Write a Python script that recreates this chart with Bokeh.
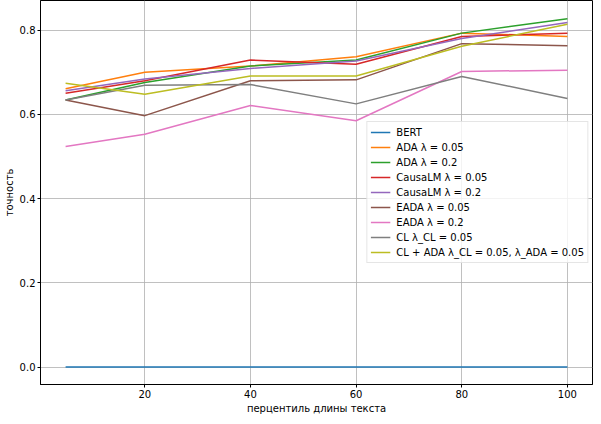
from bokeh.plotting import figure
from bokeh.models import Range1d, FixedTicker, Legend, LegendItem, PrintfTickFormatter
from bokeh.embed import file_html
from bokeh.resources import INLINE

x = [5, 20, 40, 60, 80, 100]
bert = [0.0, 0.0, 0.0, 0.0, 0.0, 0.0]
ada_005 = [0.661, 0.700, 0.715, 0.737, 0.793, 0.785]
ada_02 = [0.634, 0.676, 0.715, 0.729, 0.793, 0.827]
causalm_005 = [0.650, 0.680, 0.729, 0.719, 0.785, 0.793]
causalm_02 = [0.656, 0.684, 0.709, 0.727, 0.780, 0.818]
eada_005 = [0.634, 0.597, 0.680, 0.682, 0.768, 0.763]
eada_02 = [0.524, 0.553, 0.621, 0.585, 0.702, 0.705]
cl = [0.634, 0.669, 0.671, 0.625, 0.690, 0.638]
cl_ada = [0.674, 0.648, 0.691, 0.691, 0.762, 0.814]

labels = [
    "BERT",
    "ADA λ = 0.05",
    "ADA λ = 0.2",
    "CausaLM λ = 0.05",
    "CausaLM λ = 0.2",
    "EADA λ = 0.05",
    "EADA λ = 0.2",
    "CL λ_CL = 0.05",
    "CL + ADA λ_CL = 0.05, λ_ADA = 0.05",
]
series = [bert, ada_005, ada_02, causalm_005, causalm_02, eada_005, eada_02, cl, cl_ada]
colors = ["#1f77b4", "#ff7f0e", "#2ca02c", "#d62728", "#9467bd",
          "#8c564b", "#e377c2", "#7f7f7f", "#bcbd22"]

x_ticks = [20, 40, 60, 80, 100]
y_ticks = [0.0, 0.2, 0.4, 0.6, 0.8]

FONT = "DejaVu Sans"

p = figure(width=593, height=416, output_backend="svg", toolbar_location=None,
           x_range=Range1d(0.25, 104.75), y_range=Range1d(-0.0415, 0.8705),
           min_border_top=0, min_border_right=1, min_border_left=0, min_border_bottom=0)

p.background_fill_color = "white"
p.border_fill_color = "white"
p.outline_line_color = "black"
p.outline_line_width = 1

for ax in (p.xaxis[0], p.yaxis[0]):
    ax.axis_line_color = "black"
    ax.major_tick_line_color = "black"
    ax.minor_tick_line_color = None
    ax.major_tick_out = 3
    ax.major_tick_in = 0
    ax.major_label_text_font = FONT
    ax.major_label_text_font_size = "10px"
    ax.major_label_text_color = "black"
    ax.axis_label_text_font = FONT
    ax.axis_label_text_font_size = "10px"
    ax.axis_label_text_font_style = "normal"
    ax.axis_label_text_color = "black"
    ax.major_label_standoff = 2
    ax.axis_label_standoff = 2

p.xaxis.ticker = FixedTicker(ticks=x_ticks)
p.yaxis.ticker = FixedTicker(ticks=y_ticks)
p.yaxis.formatter = PrintfTickFormatter(format="%.1f")
p.xaxis.axis_label = "перцентиль длины текста"
p.yaxis.axis_label = "точность"

p.xgrid.grid_line_color = "#b0b0b0"
p.ygrid.grid_line_color = "#b0b0b0"
p.xgrid.grid_line_width = 0.8
p.ygrid.grid_line_width = 0.8

items = []
for lab, ys, c in zip(labels, series, colors):
    r = p.line(x, ys, line_color=c, line_width=1.5)
    items.append(LegendItem(label=lab, renderers=[r]))

legend = Legend(items=items, location="right")
legend.label_text_font = FONT
legend.label_text_font_size = "10px"
legend.label_text_color = "black"
legend.glyph_width = 20
legend.glyph_height = 14
legend.label_height = 14
legend.label_standoff = 6
legend.spacing = 1
legend.padding = 3
legend.margin = 4
legend.border_line_color = "#cccccc"
legend.border_line_width = 1
legend.background_fill_alpha = 0.8
p.add_layout(legend, "center")

open("out.html", "w").write(file_html(p, INLINE))
